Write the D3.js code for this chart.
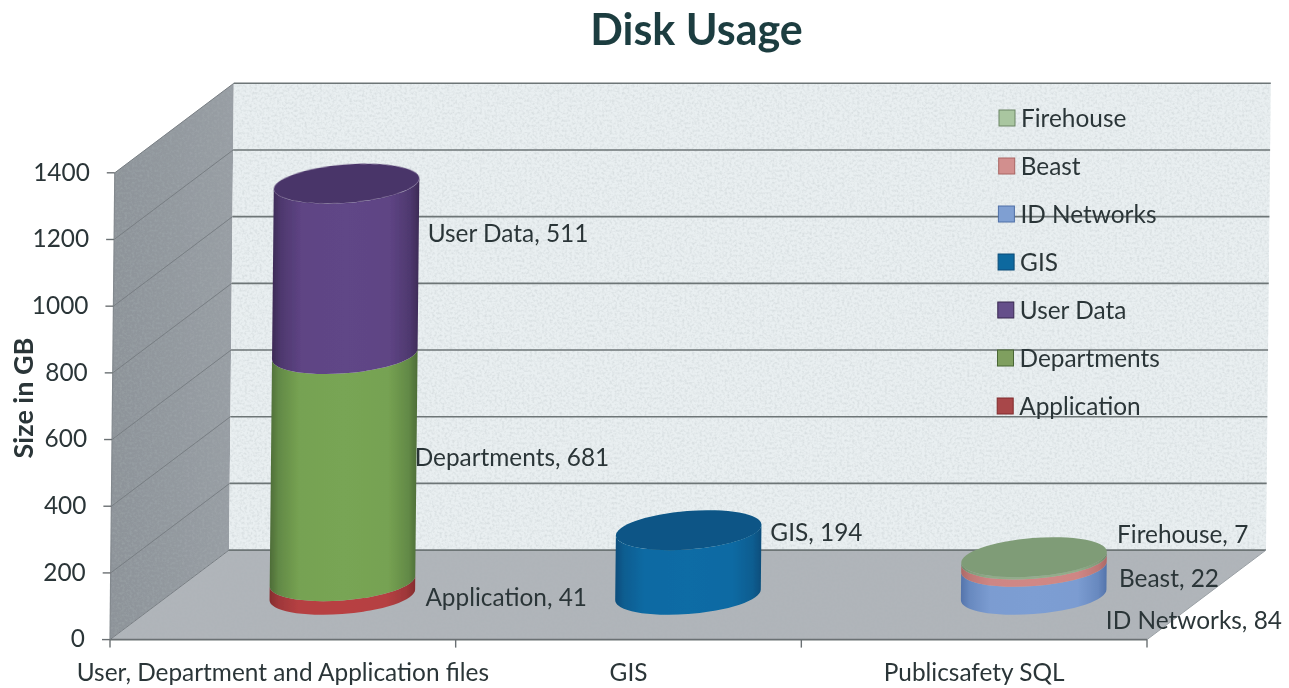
<!DOCTYPE html>
<html>
<head>
<meta charset="utf-8">
<script src="https://cdn.jsdelivr.net/npm/d3@7"></script>
<style>
  html, body { margin: 0; background: #fff; }
  svg { display: block; }
  text { font-family: Lato, "Open Sans", sans-serif; fill: #2c3638; }
</style>
</head>
<body>
<script>
// data
const categories = ['User, Department and Application files', 'GIS', 'Publicsafety SQL'];
const series = ['Application', 'Departments', 'User Data', 'GIS', 'ID Networks', 'Beast', 'Firehouse'];
const seriesCategory = [0, 0, 0, 1, 2, 2, 2];
const seriesValues = [41, 681, 511, 194, 84, 22, 7];
const legendOrder = ['Firehouse', 'Beast', 'ID Networks', 'GIS', 'User Data', 'Departments', 'Application'];
const yTicks = [0, 200, 400, 600, 800, 1000, 1200, 1400];

// edge, mid, top, legend colours
const palette = {
  'Application': ['#7f2b2c', '#b84143', '#a33a3b', '#a8474a'],
  'Departments': ['#486634', '#78a554', '#6d9350', '#7f9f5e'],
  'User Data': ['#38274f', '#604687', '#4a3469', '#654f8a'],
  'GIS': ['#074a76', '#0a6ca5', '#075586', '#11699f'],
  'ID Networks': ['#4f6fa6', '#7d9ed3', '#6a8cc0', '#7f9fd2'],
  'Beast': ['#a96562', '#d08886', '#c27c7a', '#d28f8e'],
  'Firehouse': ['#6a8464', '#93ad8a', '#7f9c77', '#a9c6a0']
};

// hand placed data labels, relative to the right edge / middle of a segment
const labelNudge = {
  'Application': [10, 9],
  'Departments': [-2, -10],
  'User Data': [9, -35],
  'GIS': [9, -30],
  'ID Networks': [-1, 40],
  'Beast': [12, 15],
  'Firehouse': [10, -24]
};

const width = 1289, height = 688;
const frontLeft = 110, frontRight = 1147;
const depthX = 119, depthY = 89.5;
const rx = 73, ry = 19.2, tilt = -4.5 * Math.PI / 180;
const labelSize = '24.4px';

const svg = d3.select('body').append('svg').attr('width', width).attr('height', height);
const defs = svg.append('defs');

const x = d3.scaleBand().domain(d3.range(categories.length)).range([frontLeft, frontRight]);
const xLabels = d3.scaleBand().domain(categories).range([frontLeft, frontRight]);
const y = d3.scaleLinear().domain([0, 1400]).range([639.6, 172.8]);
// the scan leans a little to the right going up
const lean = d3.scaleLinear().domain([0, 1400]).range([0, 4.8]);

// floor/wall point, depth 0 = front, 1 = back
function pt(px, v, depth) {
  return [px + lean(v) + depth * depthX, y(v) - depth * depthY];
}

const poly = pts => 'M' + pts.map(p => p.join(',')).join('L') + 'Z';

// paper grain of the scan
const grain = defs.append('filter').attr('id', 'grain')
  .attr('x', 0).attr('y', 0).attr('width', 1).attr('height', 1);
grain.append('feTurbulence').attr('type', 'fractalNoise').attr('baseFrequency', 0.4)
  .attr('numOctaves', 2).attr('seed', 4).attr('result', 'n');
grain.append('feColorMatrix').attr('in', 'n').attr('type', 'matrix')
  .attr('values', '0 0 0 0 0.4  0 0 0 0 0.45  0 0 0 0 0.47  0 0 0.7 0 -0.28').attr('result', 'g');
grain.append('feComposite').attr('in', 'g').attr('in2', 'SourceAlpha').attr('operator', 'in').attr('result', 'c');
grain.append('feMerge').selectAll('feMergeNode').data(['SourceGraphic', 'c']).enter()
  .append('feMergeNode').attr('in', d => d);

const soft = defs.append('filter').attr('id', 'soft');
soft.append('feGaussianBlur').attr('stdDeviation', 0.5);

const sideGrad = defs.append('linearGradient').attr('id', 'wallLeft')
  .attr('x1', 0).attr('x2', 1).attr('y1', 0).attr('y2', 0);
sideGrad.append('stop').attr('offset', 0).attr('stop-color', '#8d9399');
sideGrad.append('stop').attr('offset', 1).attr('stop-color', '#989ea4');

const chart = svg.append('g').attr('filter', 'url(#soft)');

// walls and floor
const walls = chart.append('g');
walls.append('path')
  .attr('d', poly([pt(frontLeft, 0, 0), pt(frontLeft, 1400, 0), pt(frontLeft, 1400, 1), pt(frontLeft, 0, 1)]))
  .attr('fill', 'url(#wallLeft)').attr('filter', 'url(#grain)');
walls.append('path')
  .attr('d', poly([pt(frontLeft, 0, 1), pt(frontLeft, 1400, 1), pt(frontRight, 1400, 1), pt(frontRight, 0, 1)]))
  .attr('fill', '#e9eff1').attr('filter', 'url(#grain)');
walls.append('path')
  .attr('d', poly([pt(frontLeft, 0, 0), pt(frontRight, 0, 0), pt(frontRight, 0, 1), pt(frontLeft, 0, 1)]))
  .attr('fill', '#b0b5ba').attr('filter', 'url(#grain)');

// gridlines, back wall and left wall
yTicks.forEach(t => {
  const a = pt(frontLeft, t, 0), b = pt(frontLeft, t, 1), c = pt(frontRight, t, 1);
  walls.append('line').attr('x1', a[0]).attr('y1', a[1]).attr('x2', b[0]).attr('y2', b[1])
    .attr('stroke', '#787e83').attr('stroke-width', 1);
  walls.append('line').attr('x1', b[0]).attr('y1', b[1]).attr('x2', c[0]).attr('y2', c[1])
    .attr('stroke', '#6d7476').attr('stroke-width', 1.6);
});

// front edge of the floor and of the left wall
const axisColor = '#6b7073';
chart.append('line')
  .attr('x1', frontLeft).attr('y1', y(0)).attr('x2', frontRight).attr('y2', y(0))
  .attr('stroke', axisColor).attr('stroke-width', 1.6);
chart.append('line')
  .attr('x1', pt(frontLeft, 0, 0)[0]).attr('y1', y(0))
  .attr('x2', pt(frontLeft, 1400, 0)[0]).attr('y2', y(1400))
  .attr('stroke', '#83898e').attr('stroke-width', 1.2);
chart.append('line')
  .attr('x1', pt(frontRight, 0, 0)[0]).attr('y1', y(0))
  .attr('x2', pt(frontRight, 0, 1)[0]).attr('y2', y(0) - depthY)
  .attr('stroke', '#9aa0a5').attr('stroke-width', 1);

// y axis
const yAxis = chart.append('g')
  .call(d3.axisLeft(y).tickValues(yTicks).tickFormat(d3.format('d')).tickSize(8).tickPadding(17));
yAxis.select('.domain').remove();
yAxis.selectAll('.tick').attr('transform', d => `translate(${frontLeft + lean(d)},${y(d)})`);
yAxis.selectAll('.tick line').attr('stroke', axisColor).attr('stroke-width', 1.4);
yAxis.selectAll('.tick text').style('font-size', labelSize).style('font-family', 'Lato').attr('fill', '#2c3638');

// x axis, ticks sit between the categories
const xAxis = chart.append('g').attr('transform', `translate(0,${y(0)})`)
  .call(d3.axisBottom(xLabels).tickSize(0).tickPadding(24));
xAxis.select('.domain').remove();
xAxis.selectAll('.tick text').style('font-size', labelSize).style('font-family', 'Lato').attr('fill', '#2c3638');
chart.append('g').selectAll('line').data(d3.range(categories.length + 1)).enter().append('line')
  .attr('x1', i => frontLeft + i * x.step()).attr('x2', i => frontLeft + i * x.step())
  .attr('y1', y(0)).attr('y2', y(0) + 8)
  .attr('stroke', axisColor).attr('stroke-width', 1.4);

// widest points of the tilted ellipse
const tR = Math.atan2(-ry * Math.sin(tilt), rx * Math.cos(tilt));
const edgeX = rx * Math.cos(tR) * Math.cos(tilt) - ry * Math.sin(tR) * Math.sin(tilt);
const edgeY = rx * Math.cos(tR) * Math.sin(tilt) + ry * Math.sin(tR) * Math.cos(tilt);
const tiltDeg = tilt * 180 / Math.PI;

// stack values per category
const stacked = [];
const running = categories.map(() => 0);
series.forEach((name, i) => {
  const c = seriesCategory[i];
  stacked.push({ name, c, v0: running[c], v1: running[c] + seriesValues[i], value: seriesValues[i] });
  running[c] += seriesValues[i];
});

stacked.forEach((d, i) => {
  const colors = palette[d.name];
  const mix = d3.interpolateRgb(colors[0], colors[1]);
  const g = defs.append('linearGradient').attr('id', 'grad' + i).attr('x1', 0).attr('x2', 1).attr('y1', 0).attr('y2', 0);
  [[0, mix(0.1)], [0.06, mix(0.55)], [0.2, mix(0.95)], [0.5, mix(1)], [0.8, mix(0.95)], [0.94, mix(0.55)], [1, mix(0.1)]].forEach(s => {
    g.append('stop').attr('offset', s[0]).attr('stop-color', s[1]);
  });
});

const cylinders = chart.append('g');
stacked.forEach((d, i) => {
  const cx = x(d.c) + x.bandwidth() / 2;
  const b = pt(cx, d.v0, 0.5), t = pt(cx, d.v1, 0.5);
  const arcTo = (p, sweep) => `A${rx},${ry} ${tiltDeg} 0 ${sweep} ${p[0]},${p[1]}`;
  const path = `M${b[0] - edgeX},${b[1] - edgeY}` + arcTo([b[0] + edgeX, b[1] + edgeY], 0) +
    `L${t[0] + edgeX},${t[1] + edgeY}` + arcTo([t[0] - edgeX, t[1] - edgeY], 1) + 'Z';
  cylinders.append('path').attr('d', path).attr('fill', `url(#grad${i})`);

  // top cap only on the last segment of a stack
  if (d.v1 === running[d.c]) {
    cylinders.append('ellipse')
      .attr('rx', rx).attr('ry', ry)
      .attr('transform', `translate(${t[0]},${t[1]}) rotate(${tiltDeg})`)
      .attr('fill', palette[d.name][2]);
  }
});

// data labels
const labels = chart.append('g');
stacked.forEach(d => {
  const cx = x(d.c) + x.bandwidth() / 2;
  const m = pt(cx, (d.v0 + d.v1) / 2, 0.5);
  const n = labelNudge[d.name];
  labels.append('text')
    .attr('x', m[0] + rx + n[0]).attr('y', m[1] + n[1])
    .attr('dy', '0.35em').style('font-size', labelSize)
    .text(d.name + ', ' + d.value);
});

// legend
const legendY = d3.scalePoint().domain(legendOrder).range([118, 406]);
const legend = chart.append('g').selectAll('g').data(legendOrder).enter().append('g')
  .attr('transform', d => `translate(${999 - legendOrder.indexOf(d) * 0.3},${legendY(d)})`);
legend.append('rect').attr('x', 0).attr('y', -8).attr('width', 16).attr('height', 16)
  .attr('fill', d => palette[d][3]).attr('stroke', d => palette[d][0]).attr('stroke-width', 1);
legend.append('text').attr('x', 22).attr('dy', '0.35em').style('font-size', labelSize).text(d => d);

// title and axis title
chart.append('text').attr('x', 696.5).attr('y', 45).attr('text-anchor', 'middle')
  .style('font-size', '43px').style('font-weight', 700).style('fill', '#1f3d40').text('Disk Usage');
chart.append('text').attr('transform', 'translate(33,398) rotate(-90)').attr('text-anchor', 'middle')
  .style('font-size', '27px').style('font-weight', 700).text('Size in GB');
</script>
</body>
</html>
